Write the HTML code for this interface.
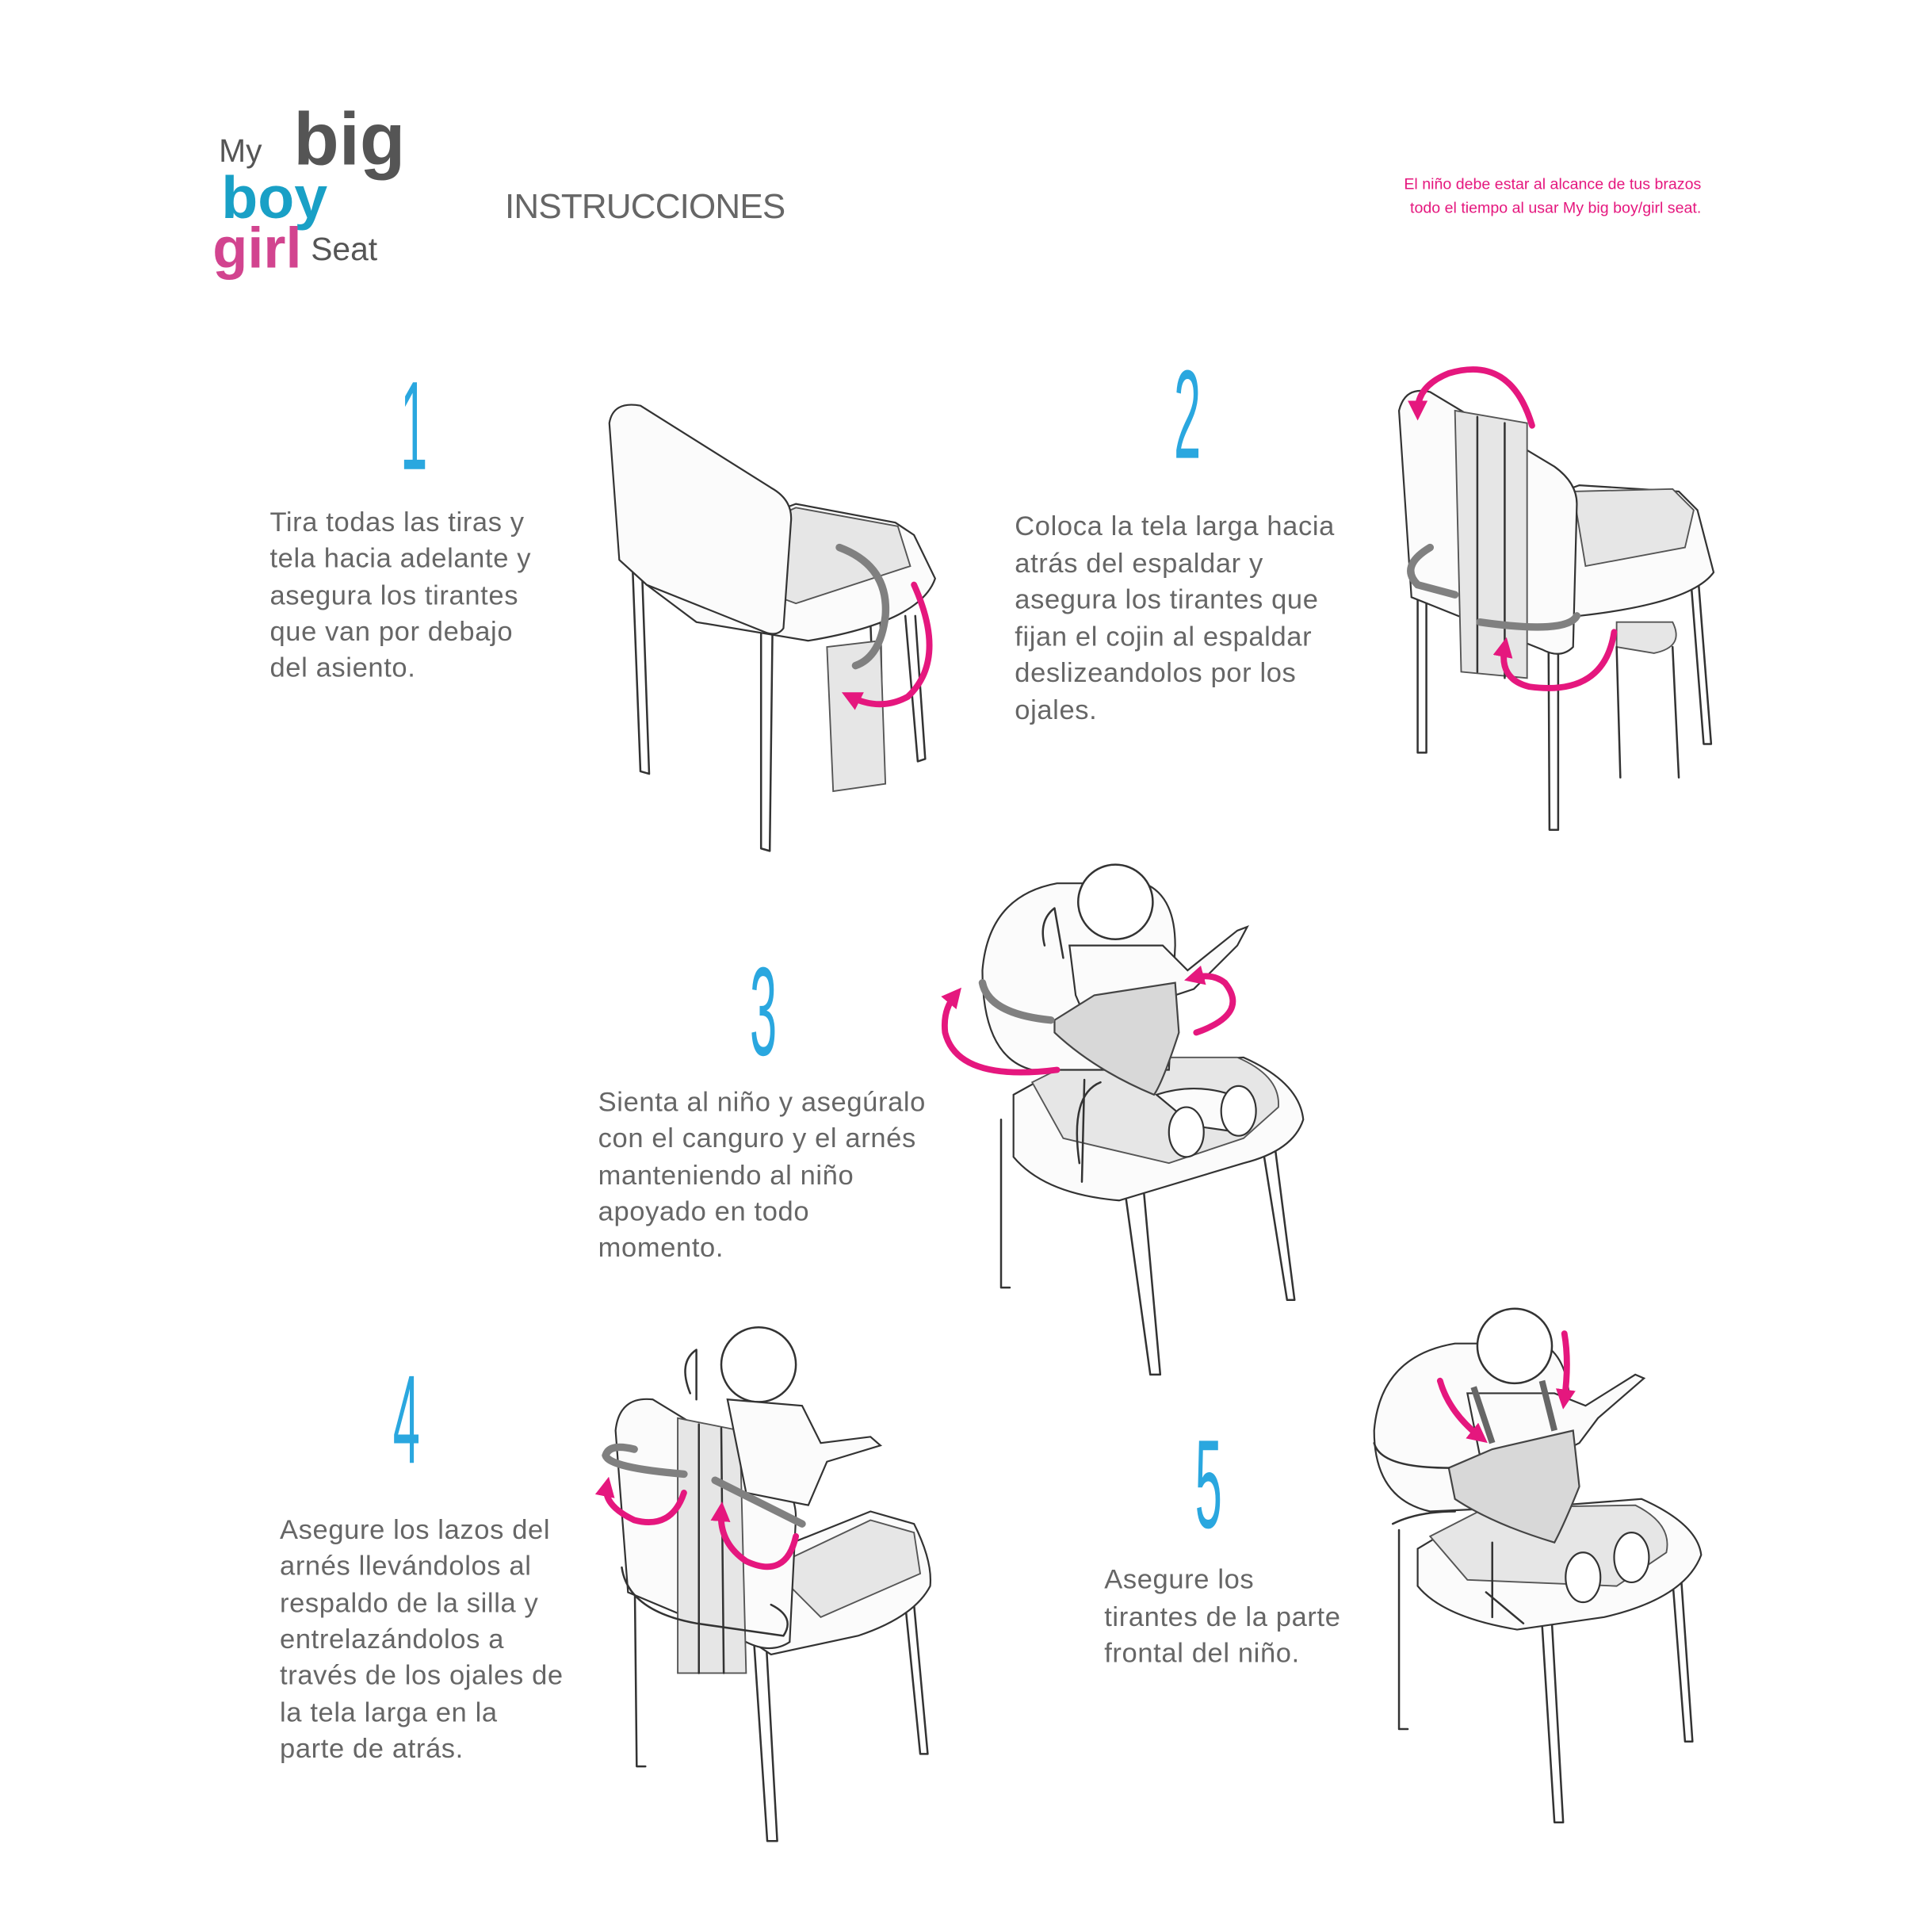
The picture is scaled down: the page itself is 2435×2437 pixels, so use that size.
<!DOCTYPE html>
<html><head><meta charset="utf-8">
<style>
html,body{margin:0;padding:0;background:#fff;}
svg{display:block;}
text{font-family:"Liberation Sans",sans-serif;}
.t{font-size:22px;fill:#666;letter-spacing:0.4px;}
.n{font-size:78px;fill:#2aa7df;}
.o{fill:none;stroke:#333;stroke-width:1.6;stroke-linejoin:round;stroke-linecap:round;}
.f{fill:#fbfbfb;stroke:#333;stroke-width:1.4;}
.g{fill:#e6e6e6;stroke:#555;stroke-width:1.2;}
.s{fill:none;stroke:#808080;stroke-width:6;stroke-linecap:round;}
.p{fill:none;stroke:#e5177e;stroke-width:5;stroke-linecap:round;marker-end:url(#ah);}
</style></head><body>
<svg width="2435" height="2437" viewBox="0 0 1552 1553" xmlns="http://www.w3.org/2000/svg">
<defs>
<marker id="ah" viewBox="0 0 10 10" refX="5" refY="5" markerWidth="3.2" markerHeight="3.2" orient="auto-start-reverse"><path d="M0,0 L10,5 L0,10 Z" fill="#e5177e"/></marker>
</defs>
<rect width="1552" height="1553" fill="#fff"/>
<!-- logo -->
<text x="176" y="130" font-size="26" fill="#555">My</text>
<text x="236" y="132" font-size="60" font-weight="bold" fill="#555">big</text>
<text x="178" y="175" font-size="48" font-weight="bold" fill="#19a0c6">boy</text>
<text x="171" y="215" font-size="46" font-weight="bold" fill="#d2448f">girl</text>
<text x="250" y="209" font-size="26" fill="#555">Seat</text>
<text x="406" y="175" font-size="28" fill="#666" letter-spacing="-0.5">INSTRUCCIONES</text>
<text x="1368" y="152" font-size="12.5" fill="#e5177e" text-anchor="end">El niño debe estar al alcance de tus brazos</text>
<text x="1368" y="171" font-size="12.5" fill="#e5177e" text-anchor="end">todo el tiempo al usar My big boy/girl seat.</text>

<!-- numbers -->
<text class="n" x="322" y="377" transform="translate(322,377) scale(0.5,1.3) translate(-322,-377)">1</text>
<text class="n" x="944" y="368" transform="translate(944,368) scale(0.5,1.3) translate(-944,-368)">2</text>
<text class="n" x="603" y="848" transform="translate(603,848) scale(0.5,1.3) translate(-603,-848)">3</text>
<text class="n" x="316" y="1176" transform="translate(316,1176) scale(0.5,1.3) translate(-316,-1176)">4</text>
<text class="n" x="961" y="1228" transform="translate(961,1228) scale(0.5,1.3) translate(-961,-1228)">5</text>

<!-- texts -->
<g class="t">
<text x="217" y="427">Tira todas las tiras y</text>
<text x="217" y="456">tela hacia adelante y</text>
<text x="217" y="486">asegura los tirantes</text>
<text x="217" y="515">que van por debajo</text>
<text x="217" y="544">del asiento.</text>

<text x="816" y="430">Coloca la tela larga hacia</text>
<text x="816" y="460">atrás del espaldar y</text>
<text x="816" y="489">asegura los tirantes que</text>
<text x="816" y="519">fijan el cojin al espaldar</text>
<text x="816" y="548">deslizeandolos por los</text>
<text x="816" y="578">ojales.</text>

<text x="481" y="893">Sienta al niño y asegúralo</text>
<text x="481" y="922">con el canguro y el arnés</text>
<text x="481" y="952">manteniendo al niño</text>
<text x="481" y="981">apoyado en todo</text>
<text x="481" y="1010">momento.</text>

<text x="225" y="1237">Asegure los lazos del</text>
<text x="225" y="1266">arnés llevándolos al</text>
<text x="225" y="1296">respaldo de la silla y</text>
<text x="225" y="1325">entrelazándolos a</text>
<text x="225" y="1354">través de los ojales de</text>
<text x="225" y="1384">la tela larga en la</text>
<text x="225" y="1413">parte de atrás.</text>

<text x="888" y="1277">Asegure los</text>
<text x="888" y="1307">tirantes de la parte</text>
<text x="888" y="1336">frontal del niño.</text>
</g>

<!-- chair 1 -->
<g>
<path class="o" d="M505,360 L515,620 L522,622 L513,365"/>
<path class="o" d="M612,430 L612,682 L619,684 L622,440"/>
<path class="o" d="M700,500 L704,610 L710,610 L708,500"/>
<path class="o" d="M728,495 L738,612 L744,610 L736,495"/>
<path class="f" d="M640,405 L720,420 L735,430 L752,465 Q740,500 650,515 L560,500 L520,470 L530,445 Z"/>
<path class="g" d="M545,450 L640,408 L722,423 L732,455 L640,485 Z"/>
<path class="f" d="M490,340 Q493,322 515,326 L620,392 Q638,402 636,420 L630,505 Q625,512 615,508 L520,470 L498,450 Z"/>
<path class="g" d="M665,520 L708,515 L712,630 L670,636 Z"/>
<path class="s" d="M675,440 Q715,455 712,495 Q708,528 688,535"/>
<path class="p" d="M735,470 Q762,530 730,560 Q708,572 684,560"/>
</g>

<!-- chair 2 -->
<g>
<path class="o" d="M1140,380 L1140,605 L1147,605 L1147,385"/>
<path class="o" d="M1245,470 L1246,667 L1253,667 L1253,470"/>
<path class="o" d="M1360,470 L1370,598 L1376,598 L1366,470"/>
<path class="f" d="M1160,430 L1270,390 L1350,395 L1365,410 L1378,460 Q1360,485 1270,495 L1160,470 Z"/>
<path class="g" d="M1265,395 L1345,393 L1362,410 L1355,440 L1275,455 Z"/>
<path class="f" d="M1125,330 Q1130,310 1150,315 L1250,375 Q1268,388 1268,405 L1265,520 Q1255,530 1240,522 L1135,480 Z"/>
<path class="g" d="M1170,330 L1228,340 L1228,545 L1175,540 Z"/>
<path class="o" d="M1188,335 L1188,540 M1210,340 L1210,545"/>
<path class="s" d="M1150,440 Q1125,455 1140,470 L1170,478"/>
<path class="s" d="M1190,500 Q1260,510 1268,495"/>
<path class="g" d="M1300,500 L1345,500 Q1355,520 1330,525 L1300,520 Z"/>
<path class="o" d="M1300,520 L1303,625 M1345,520 L1350,625"/>
<path class="p" d="M1232,342 Q1215,285 1165,300 Q1140,310 1140,330"/>
<path class="p" d="M1298,508 Q1290,560 1230,552 Q1205,546 1210,520"/>
</g>

<!-- chair 3 -->
<g>
<path class="o" d="M805,900 L805,1035 L812,1035"/>
<path class="o" d="M905,960 L925,1105 L933,1105 L920,960"/>
<path class="o" d="M1015,920 L1035,1045 L1041,1045 L1025,920"/>
<path class="f" d="M815,880 L860,855 L1000,850 Q1045,870 1048,900 Q1040,925 1000,935 L900,965 Q840,960 815,930 Z"/>
<path class="g" d="M830,870 L870,850 L995,850 Q1030,865 1028,890 L1000,915 L940,935 L855,915 Z"/>
<path class="f" d="M790,780 Q795,720 850,710 L920,710 Q945,720 945,760 L940,860 L830,860 Q790,850 790,780 Z"/>
<path class="o" d="M868,935 Q860,880 885,870 M872,868 L870,950"/>
<circle cx="897" cy="725" r="30" fill="#fff" stroke="#333" stroke-width="1.6"/>
<path class="f" d="M860,760 L935,760 L955,780 L995,748 L1003,745 L995,760 L960,795 L945,800 L940,835 Q920,845 880,835 L865,800 Z" fill="#fff"/>
<path d="M848,820 L880,800 L945,790 L948,830 Q935,870 928,880 Q880,860 848,830 Z" fill="#d8d8d8" stroke="#444" stroke-width="1.4"/>
<path class="o" d="M840,760 Q835,740 848,730 L855,770"/>
<path class="f" d="M930,880 Q960,870 990,880 Q1005,895 995,910 L960,905 Z" fill="#fff"/>
<ellipse cx="996" cy="893" rx="14" ry="20" fill="#fff" stroke="#333" stroke-width="1.4"/>
<ellipse cx="954" cy="910" rx="14" ry="20" fill="#fff" stroke="#333" stroke-width="1.4"/>
<path class="s" d="M790,790 Q795,815 845,820"/>
<path class="p" d="M850,860 Q770,870 760,830 Q758,812 768,800"/>
<path class="p" d="M962,830 Q1005,815 985,790 Q975,782 960,786"/>
</g>

<!-- chair 4 -->
<g>
<path class="o" d="M510,1230 L512,1420 L519,1420"/>
<path class="o" d="M605,1300 L617,1480 L625,1480 L615,1300"/>
<path class="o" d="M728,1290 L740,1410 L746,1410 L735,1290"/>
<path class="f" d="M600,1255 L700,1215 L735,1225 Q750,1255 748,1275 Q735,1300 690,1315 L620,1330 L590,1310 Z"/>
<path class="g" d="M620,1260 L700,1222 L735,1232 L740,1265 L660,1300 Z"/>
<path class="f" d="M495,1150 Q498,1122 525,1125 L615,1180 Q640,1195 640,1220 L635,1320 Q620,1330 600,1320 L505,1280 Z"/>
<path class="g" d="M545,1140 L595,1150 L600,1345 L545,1345 Z"/>
<path class="o" d="M562,1145 L562,1345 M580,1148 L582,1345"/>
<circle cx="610" cy="1097" r="30" fill="#fff" stroke="#333" stroke-width="1.6"/>
<path class="f" d="M585,1125 L645,1130 L660,1160 L700,1155 L708,1162 L665,1175 L650,1210 L600,1200 Z" fill="#fff"/>
<path class="o" d="M555,1120 Q545,1095 560,1085 L560,1125"/>
<path class="o" d="M500,1260 Q505,1295 560,1305 L630,1315 Q640,1300 620,1290"/>
<path class="s" d="M550,1185 Q490,1180 487,1170 Q490,1160 510,1165"/>
<path class="s" d="M575,1190 L645,1225"/>
<path class="p" d="M550,1200 Q540,1230 510,1222 Q485,1210 488,1195"/>
<path class="p" d="M640,1235 Q632,1270 600,1255 Q578,1240 580,1215"/>
</g>

<!-- chair 5 -->
<g>
<path class="o" d="M1125,1230 L1125,1390 L1132,1390"/>
<path class="o" d="M1240,1305 L1250,1465 L1257,1465 L1248,1305"/>
<path class="o" d="M1345,1270 L1355,1400 L1361,1400 L1352,1270"/>
<path class="f" d="M1140,1245 L1190,1215 L1320,1205 Q1365,1225 1368,1250 Q1355,1285 1290,1300 L1220,1310 Q1160,1300 1140,1275 Z"/>
<path class="g" d="M1150,1235 L1195,1212 L1315,1210 Q1345,1225 1340,1248 L1300,1275 L1180,1270 Z"/>
<path class="f" d="M1105,1150 Q1110,1090 1170,1080 L1240,1080 Q1260,1090 1262,1125 L1258,1210 L1150,1215 Q1105,1205 1105,1150 Z"/>
<circle cx="1218" cy="1082" r="30" fill="#fff" stroke="#333" stroke-width="1.6"/>
<path class="f" d="M1180,1120 L1250,1120 L1275,1130 L1315,1105 L1322,1108 L1285,1140 L1270,1160 L1250,1170 L1190,1170 Z" fill="#fff"/>
<path d="M1165,1180 L1200,1165 L1265,1150 L1270,1195 Q1258,1225 1250,1240 Q1200,1225 1170,1205 Z" fill="#d8d8d8" stroke="#444" stroke-width="1.4"/>
<ellipse cx="1312" cy="1252" rx="14" ry="20" fill="#fff" stroke="#333" stroke-width="1.4"/>
<ellipse cx="1273" cy="1268" rx="14" ry="20" fill="#fff" stroke="#333" stroke-width="1.4"/>
<path class="o" d="M1105,1160 Q1110,1180 1165,1180 M1120,1225 Q1140,1215 1170,1215"/>
<path class="o" d="M1195,1280 L1225,1305 M1200,1240 L1200,1300"/>
<path d="M1185,1115 L1200,1160 M1240,1110 L1250,1150" stroke="#666" stroke-width="5" fill="none"/>
<path class="p" d="M1158,1110 Q1165,1135 1190,1155"/>
<path class="p" d="M1258,1072 Q1262,1095 1258,1125"/>
</g>
</svg>
</body></html>
